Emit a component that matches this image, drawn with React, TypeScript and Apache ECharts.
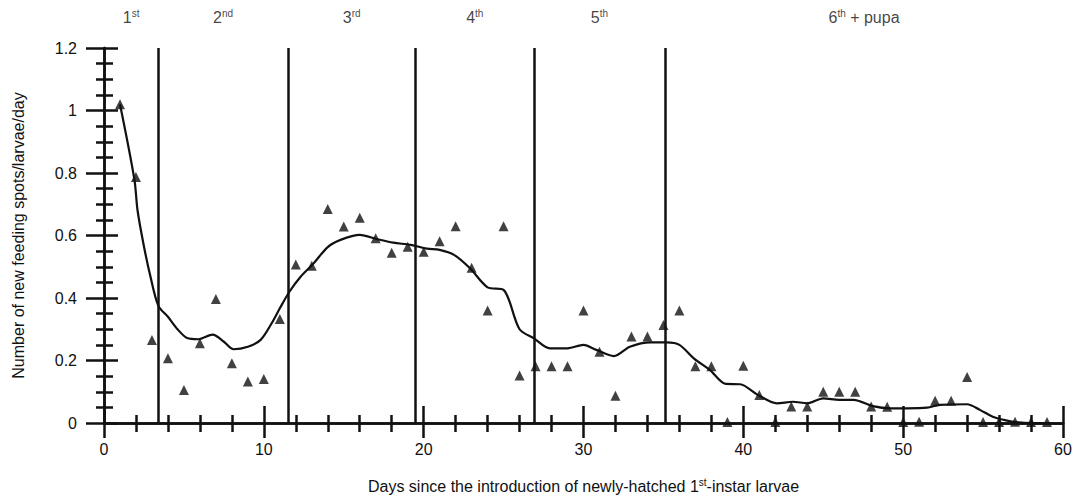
import React, { useEffect, useRef } from "react";
import * as echarts from "echarts";

// Observed daily values (day, new feeding spots/larva/day)
const days = [
  1, 2, 3, 4, 5, 6, 7, 8, 9, 10, 11, 12, 13, 14, 15, 16, 17, 18, 19, 20,
  21, 22, 23, 24, 25, 26, 27, 28, 29, 30, 31, 32, 33, 34, 35, 36, 37, 38, 39, 40,
  41, 42, 43, 44, 45, 46, 47, 48, 49, 50, 51, 52, 53, 54, 55, 56, 57, 58, 59,
];
const spots = [
  1.02, 0.787, 0.266, 0.207, 0.106, 0.255, 0.397, 0.191, 0.133, 0.141,
  0.333, 0.507, 0.503, 0.685, 0.629, 0.657, 0.591, 0.545, 0.564, 0.548,
  0.582, 0.63, 0.497, 0.36, 0.63, 0.152, 0.182, 0.182, 0.182, 0.36,
  0.228, 0.087, 0.277, 0.277, 0.314, 0.36, 0.182, 0.182, 0.003, 0.183,
  0.09, 0.003, 0.053, 0.053, 0.1, 0.1, 0.1, 0.053, 0.052, 0.003,
  0.004, 0.071, 0.071, 0.147, 0.003, 0.003, 0.004, 0.003, 0.003,
];

// Smoothed trend line (day, value)
const trendDays = [
  1, 1.9, 2.1, 2.5, 2.9, 3.4, 4.0, 4.6, 5.2, 5.9, 6.8, 7.5, 8.1, 9.0, 9.8,
  10.5, 11.0, 11.6, 12.3, 13.1, 14.0, 14.8, 16.0, 17.1, 18.1, 19.2, 20.2,
  21.0, 21.9, 22.9, 24.0, 25.0, 26.0, 26.9, 27.9, 29.0, 30.0, 30.8, 31.9,
  32.9, 34.2, 35.2, 36.0, 36.9, 37.9, 38.9, 39.8, 40.9, 42.1, 43.1, 44.0,
  45.0, 46.0, 46.9, 48.1, 49.2, 50.2, 51.5, 52.3, 54.0, 54.8, 55.6, 56.3,
  56.9, 58, 59,
];
const trendValues = [
  1.02, 0.78, 0.68, 0.565, 0.47, 0.375, 0.34, 0.3, 0.272, 0.268, 0.283, 0.26,
  0.236, 0.244, 0.266, 0.32, 0.367, 0.42, 0.468, 0.51, 0.563, 0.586, 0.602,
  0.588, 0.577, 0.57, 0.558, 0.554, 0.538, 0.495, 0.434, 0.426, 0.3, 0.271,
  0.239, 0.239, 0.25, 0.234, 0.214, 0.244, 0.258, 0.258, 0.25, 0.207, 0.17,
  0.125, 0.124, 0.09, 0.063, 0.068, 0.063, 0.079, 0.074, 0.074, 0.054, 0.047,
  0.047, 0.049, 0.058, 0.06, 0.042, 0.02, 0.01, 0.004, 0.0, 0.0,
];

// Instar boundaries (days) and labels
const stageBoundaries = [3.4, 11.5, 19.5, 26.9, 35.1];
const stageNumbers = ["1", "2", "3", "4", "5", "6"];
const stageSuffixes = ["st", "nd", "rd", "th", "th", "th"];
const stageExtras = ["", "", "", "", "", " + pupa"];

const X_MIN = 0;
const X_MAX = 60;
const Y_MIN = 0;
const Y_MAX = 1.2;

export default function App() {
  const ref = useRef<HTMLDivElement>(null);

  useEffect(() => {
    document.body.style.margin = "0";
    if (!ref.current) return;
    const chart = echarts.init(ref.current, undefined, { renderer: "svg" });
    const font = "Liberation Sans, Arial, Helvetica, sans-serif";
    const black = "#111";

    const bounds = [X_MIN, ...stageBoundaries, X_MAX];
    const stageLabelData = stageNumbers.map((n, i) => ({
      value: [(bounds[i] + bounds[i + 1]) / 2, Y_MAX],
      num: n,
      suf: stageSuffixes[i],
      extra: stageExtras[i],
    }));

    const axisLine = { show: true, lineStyle: { color: black, width: 2.5 } };
    const supRich = {
      n: { fontSize: 16, fontFamily: font, color: black },
      s: { fontSize: 10, fontFamily: font, color: black, verticalAlign: "top", padding: [0, 0, 9, 0] },
    };

    chart.setOption({
      animation: false,
      backgroundColor: "#fff",
      textStyle: { fontFamily: font, color: black },
      grid: { left: 104, right: 15, top: 48, bottom: 77, containLabel: false },
      xAxis: [
        {
          type: "value",
          position: "bottom",
          min: X_MIN,
          max: X_MAX,
          interval: 10,
          axisLine,
          axisTick: { show: true, inside: false, length: 15, lineStyle: { color: black, width: 2.5 } },
          minorTick: { show: true, splitNumber: 5, length: -8, lineStyle: { color: black, width: 2.5 } },
          splitLine: { show: false },
          axisLabel: { fontSize: 16, color: black, margin: 18, fontFamily: font },
          name: "{n|Days since the introduction of newly-hatched 1}{s|st}{n|-instar larvae}",
          nameLocation: "middle",
          nameGap: 54,
          nameTextStyle: { rich: supRich },
        },
        {
          type: "value",
          position: "top",
          min: X_MIN,
          max: X_MAX,
          interval: 10,
          axisLine,
          axisTick: { show: true, inside: false, length: 17, lineStyle: { color: black, width: 2.5 } },
          minorTick: { show: true, splitNumber: 5, length: -9, lineStyle: { color: black, width: 2.5 } },
          splitLine: { show: false },
          axisLabel: { show: false },
        },
      ],
      yAxis: [
        {
          type: "value",
          position: "left",
          min: Y_MIN,
          max: Y_MAX,
          interval: 0.2,
          axisLine,
          axisTick: { show: true, inside: false, length: 18, lineStyle: { color: black, width: 2.5 } },
          minorTick: { show: true, splitNumber: 4, length: -9, lineStyle: { color: black, width: 2.5 } },
          splitLine: { show: false },
          axisLabel: {
            fontSize: 16,
            color: black,
            margin: 27,
            fontFamily: font,
            formatter: (v: number) => String(Math.round(v * 10) / 10),
          },
          name: "Number of new feeding spots/larvae/day",
          nameLocation: "middle",
          nameGap: 78,
          nameTextStyle: { fontSize: 16, fontFamily: font, color: black },
        },
        {
          type: "value",
          position: "right",
          min: Y_MIN,
          max: Y_MAX,
          interval: 0.2,
          axisLine,
          axisTick: { show: true, inside: false, length: 14, lineStyle: { color: black, width: 2.5 } },
          minorTick: { show: true, splitNumber: 4, length: -8, lineStyle: { color: black, width: 2.5 } },
          splitLine: { show: false },
          axisLabel: { show: false },
        },
      ],
      series: [
        {
          type: "line",
          xAxisIndex: 0,
          yAxisIndex: 0,
          data: trendDays.map((d, i) => [d, trendValues[i]]),
          showSymbol: false,
          symbol: "none",
          smooth: 0.3,
          lineStyle: { color: black, width: 2.2 },
          z: 3,
          markLine: {
            silent: true,
            symbol: ["none", "none"],
            label: { show: false },
            lineStyle: { color: black, width: 2.5, type: "solid" },
            data: stageBoundaries.map((b) => ({ xAxis: b })),
          },
        },
        {
          type: "scatter",
          xAxisIndex: 0,
          yAxisIndex: 0,
          data: days.map((d, i) => [d, spots[i]]),
          symbol: "triangle",
          symbolSize: 10,
          itemStyle: { color: black },
          z: 4,
        },
        {
          type: "scatter",
          xAxisIndex: 0,
          yAxisIndex: 0,
          data: stageLabelData,
          symbolSize: 0,
          silent: true,
          label: {
            show: true,
            position: "top",
            distance: 21,
            formatter: (p: any) =>
              `{n|${p.data.num}}{s|${p.data.suf}}` + (p.data.extra ? `{n|${p.data.extra}}` : ""),
            rich: supRich,
          },
          z: 5,
        },
      ],
    });

    return () => chart.dispose();
  }, []);

  return (
    <div
      ref={ref}
      style={{ position: "fixed", left: 0, top: 0, width: 1078, height: 500 }}
    />
  );
}
